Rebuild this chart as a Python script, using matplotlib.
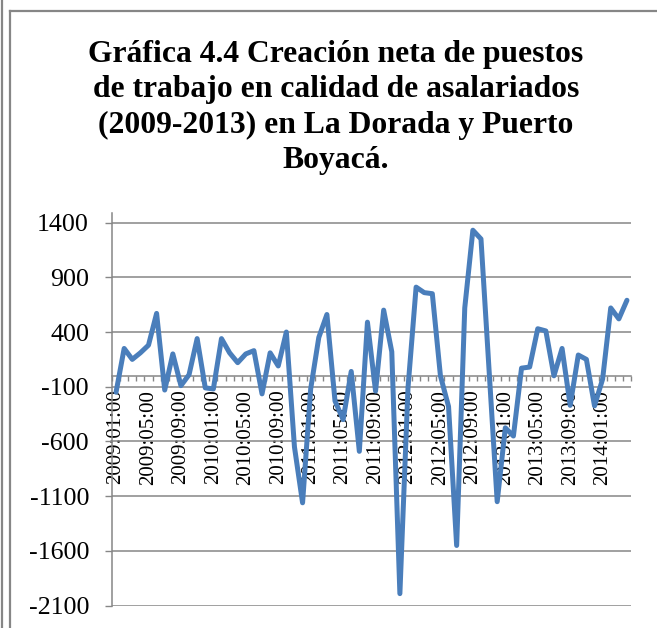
import matplotlib
matplotlib.use("Agg")
import matplotlib.pyplot as plt
from matplotlib.lines import Line2D

# ---- data ----
values = [-150, 250, 150, 210, 280, 570, -130, 200, -90, 10, 340, -110,
          -120, 340, 210, 120, 200, 230, -165, 210, 90, 400, -650, -1160,
          -120, 350, 560, -230, -400, 40, -690, 490, -140, 600, 220, -1990,
          -110, 810, 760, 750, 0, -280, -1550, 620, 1330, 1250, 50, -1150,
          -475, -550, 70, 80, 430, 410, 0, 250, -270, 190, 150, -275,
          -30, 620, 520, 690]
tick_labels = ["2009:01:00", "2009:05:00", "2009:09:00",
               "2010:01:00", "2010:05:00", "2010:09:00",
               "2011:01:00", "2011:05:00", "2011:09:00",
               "2012:01:00", "2012:05:00", "2012:09:00",
               "2013:01:00", "2013:05:00", "2013:09:00",
               "2014:01:00"]
y_ticks = [1400, 900, 400, -100, -600, -1100, -1600, -2100]
title = ("Gráfica 4.4 Creación neta de puestos\n"
         "de trabajo en calidad de asalariados\n"
         "(2009-2013) en La Dorada y Puerto\n"
         "Boyacá.")

SERIF = ["Liberation Serif", "DejaVu Serif"]
plt.rcParams["font.family"] = SERIF
GRID = "#868686"
LINE = "#4A7EBB"

W, H = 657, 628
fig = plt.figure(figsize=(W / 100, H / 100), dpi=100)
fig.patch.set_facecolor("white")

# frame lines (left double border and top line)
fig.add_artist(Line2D([2 / W, 2 / W], [0, 1], color=GRID, lw=1.6))
fig.add_artist(Line2D([9.5 / W, 9.5 / W], [0, 1 - 11 / H], color=GRID, lw=1.6))
fig.add_artist(Line2D([9.5 / W, 1], [1 - 11 / H, 1 - 11 / H], color=GRID, lw=1.6))

fig.text(336 / W, 1 - 107.5 / H, title, ha="center", va="center",
         multialignment="center", fontweight="bold",
         fontsize=22.8, linespacing=1.29)

left, right = 112 / W, 631 / W
bottom = 1 - 605.7 / H
top = 1 - 212.7 / H
ax = fig.add_axes([left, bottom, right - left, top - bottom])

n = len(values)
x = list(range(n))
ax.plot(x, values, color=LINE, lw=3.6, solid_joinstyle="round",
        solid_capstyle="round", zorder=5)

ax.set_xlim(-0.5, n - 0.5)
ax.set_ylim(-2100, 1490)

ax.set_yticks(y_ticks)
ax.set_yticklabels([str(v) for v in y_ticks])
ax.yaxis.grid(True, color=GRID, lw=1.1)
ax.set_axisbelow(True)

ax.set_xticks([i - 0.5 for i in range(n + 1)], minor=True)
ax.set_xticks(list(range(0, n, 4)))
ax.set_xticklabels(tick_labels)

ax.tick_params(axis="x", which="major", length=0, pad=10,
               labelrotation=90, labelsize=15)
ax.tick_params(axis="x", which="minor", length=3.6, width=1.0,
               color=GRID, direction="out")
ax.tick_params(axis="y", which="major", length=5, width=1.0, color=GRID,
               pad=11.5, labelsize=18.7)

for lab in ax.get_xticklabels():
    lab.set_verticalalignment("top")
    lab.set_horizontalalignment("center")

for s in ["top", "right"]:
    ax.spines[s].set_visible(False)
ax.spines["left"].set_color(GRID)
ax.spines["left"].set_linewidth(1.1)
ax.spines["bottom"].set_position(("data", 0))
ax.spines["bottom"].set_color(GRID)
ax.spines["bottom"].set_linewidth(1.1)

fig.savefig("out.png", dpi=100)
